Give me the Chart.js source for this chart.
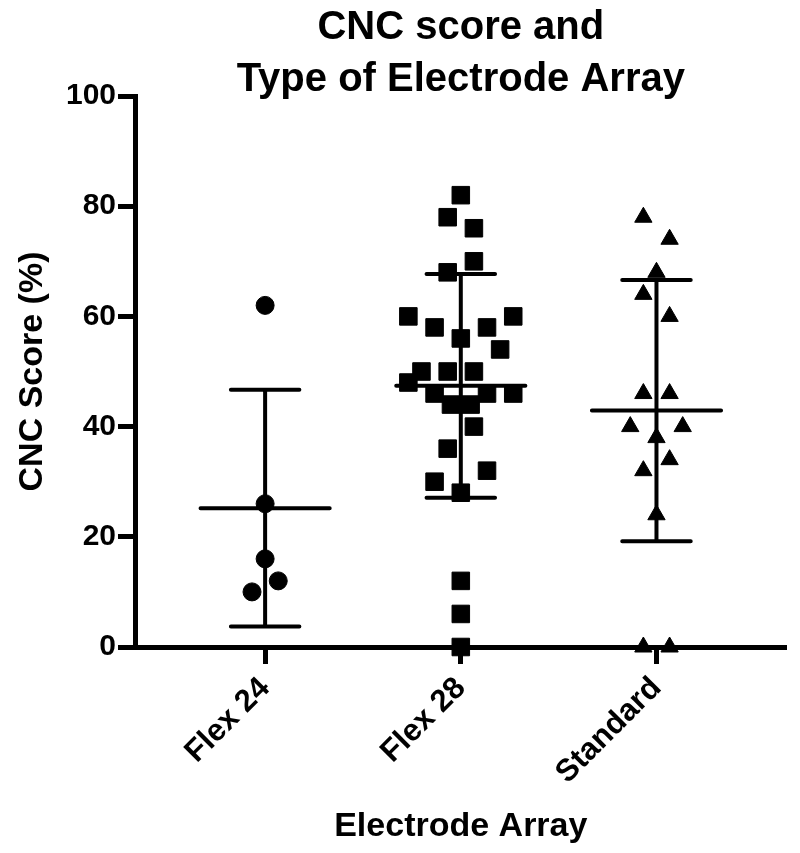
<!DOCTYPE html>
<html>
<head>
<meta charset="utf-8">
<script src="https://cdn.jsdelivr.net/npm/chart.js@4.4.1/dist/chart.umd.min.js"></script>
<style>
  html, body { margin: 0; padding: 0; background: #fff; }
  #wrap { width: 800px; height: 853px; position: relative; }
</style>
</head>
<body>
<div id="wrap"><canvas id="cncChart"></canvas></div>
<script>
"use strict";

// data
var categories = ['Flex 24', 'Flex 28', 'Standard'];
var yTicks = [0, 20, 40, 60, 80, 100];

var flex24Scores = [62, 26, 16, 12, 10];
var flex24Jitter = [0, 0, 0, 1, -1];

var flex28Scores = [82, 78, 76, 70, 68, 60, 60, 58, 58, 56, 54, 50, 50, 50, 48, 46, 46, 46, 44, 44, 40, 36, 32, 30, 28, 12, 6, 0];
var flex28Jitter = [0, -1, 1, 1, -1, -4, 4, -2, 2, 0, 3, -3, -1, 1, -4, -2, 2, 4, -0.75, 0.75, 1, -1, 2, -2, 0, 0, 0, 0];

var standardScores = [78, 74, 68, 64, 60, 46, 46, 40, 40, 38, 34, 32, 24, 0, 0];
var standardJitter = [-1, 1, 0, -1, 1, -1, 1, -2, 2, 0, 1, -1, 0, -1, 1];

var groupMeans = [25.2, 47.4, 42.9];
var groupSDs = [21.5, 20.3, 23.7];

// drawing constants
var jitterStep = 0.067;
var meanHalf = 0.33;
var capHalf = 0.175;
var fontFamily = '"Liberation Sans", Arial, Helvetica, sans-serif';

function toPoints(scores, jitter, groupIndex) {
    var pts = [];
    for (var i = 0; i < scores.length; i++) {
        pts.push({ x: groupIndex + 1 + jitter[i] * jitterStep, y: scores[i] });
    }
    return pts;
}

function errorBarPoints(groupIndex) {
    var c = groupIndex + 1;
    var m = groupMeans[groupIndex];
    var lo = m - groupSDs[groupIndex];
    var hi = m + groupSDs[groupIndex];
    return [
        { x: c - meanHalf, y: m }, { x: c + meanHalf, y: m }, { x: c, y: NaN },
        { x: c - capHalf, y: hi }, { x: c + capHalf, y: hi }, { x: c, y: NaN },
        { x: c, y: hi }, { x: c, y: lo }, { x: c, y: NaN },
        { x: c - capHalf, y: lo }, { x: c + capHalf, y: lo }
    ];
}

function scatterSet(label, pts, style, radius) {
    return {
        type: 'scatter',
        label: label,
        data: pts,
        pointStyle: style,
        pointRadius: radius,
        pointHoverRadius: radius,
        pointBackgroundColor: '#000',
        pointBorderColor: '#000',
        pointBorderWidth: 1,
        clip: false,
        order: 1
    };
}

function barSet(groupIndex) {
    return {
        type: 'scatter',
        label: categories[groupIndex] + ' mean ± SD',
        data: errorBarPoints(groupIndex),
        showLine: true,
        spanGaps: false,
        borderColor: '#000',
        borderWidth: 4,
        borderCapStyle: 'round',
        pointRadius: 0,
        pointHoverRadius: 0,
        clip: false,
        order: 2
    };
}

var datasets = [
    barSet(0), barSet(1), barSet(2),
    scatterSet('Flex 24', toPoints(flex24Scores, flex24Jitter, 0), 'circle', 9),
    scatterSet('Flex 28', toPoints(flex28Scores, flex28Jitter, 1), 'rect', 12.4),
    scatterSet('Standard', toPoints(standardScores, standardJitter, 2), 'triangle', 10)
];

var config = {
    type: 'scatter',
    data: { datasets: datasets },
    options: {
        responsive: true,
        maintainAspectRatio: false,
        animation: false,
        layout: { padding: { left: 0, right: 10, top: 0, bottom: 0 } },
        plugins: {
            legend: { display: false },
            tooltip: { enabled: false },
            title: {
                display: true,
                fullSize: false,
                text: ['CNC score and', 'Type of Electrode Array'],
                color: '#000',
                font: { family: fontFamily, size: 40, weight: 'bold', lineHeight: 1.3 },
                padding: { top: 2, bottom: -10 }
            }
        },
        scales: {
            x: {
                type: 'linear',
                min: 0.335,
                max: 3.665,
                afterBuildTicks: function (scale) {
                    scale.ticks = categories.map(function (c, i) { return { value: i + 1 }; });
                },
                afterFit: function (scale) { scale.height = 206; },
                ticks: {
                    autoSkip: false,
                    minRotation: 45,
                    maxRotation: 45,
                    padding: 6,
                    color: '#000',
                    font: { family: fontFamily, size: 31, weight: 'bold' },
                    callback: function (v) { return categories[Math.round(v) - 1]; }
                },
                grid: {
                    drawOnChartArea: false,
                    drawTicks: true,
                    tickLength: 17,
                    tickWidth: 5,
                    tickColor: '#000'
                },
                border: { display: true, width: 5, color: '#000' },
                title: {
                    display: true,
                    text: 'Electrode Array',
                    color: '#000',
                    font: { family: fontFamily, size: 34, weight: 'bold', lineHeight: 1.2 },
                    padding: { top: 0, bottom: 6 }
                }
            },
            y: {
                min: 0,
                max: 100,
                afterBuildTicks: function (scale) {
                    scale.ticks = yTicks.map(function (v) { return { value: v }; });
                },
                afterFit: function (scale) { scale.width = 135; },
                ticks: {
                    padding: 2,
                    color: '#000',
                    font: { family: fontFamily, size: 30, weight: 'bold' }
                },
                grid: {
                    drawOnChartArea: false,
                    drawTicks: true,
                    tickLength: 17,
                    tickWidth: 5,
                    tickColor: '#000'
                },
                border: { display: true, width: 5, color: '#000' },
                title: {
                    display: true,
                    text: 'CNC Score (%)',
                    color: '#000',
                    font: { family: fontFamily, size: 34, weight: 'bold', lineHeight: 1.2 },
                    padding: { top: 12, bottom: 0 }
                }
            }
        }
    }
};

var chart = new Chart(document.getElementById('cncChart'), config);
</script>
</body>
</html>
